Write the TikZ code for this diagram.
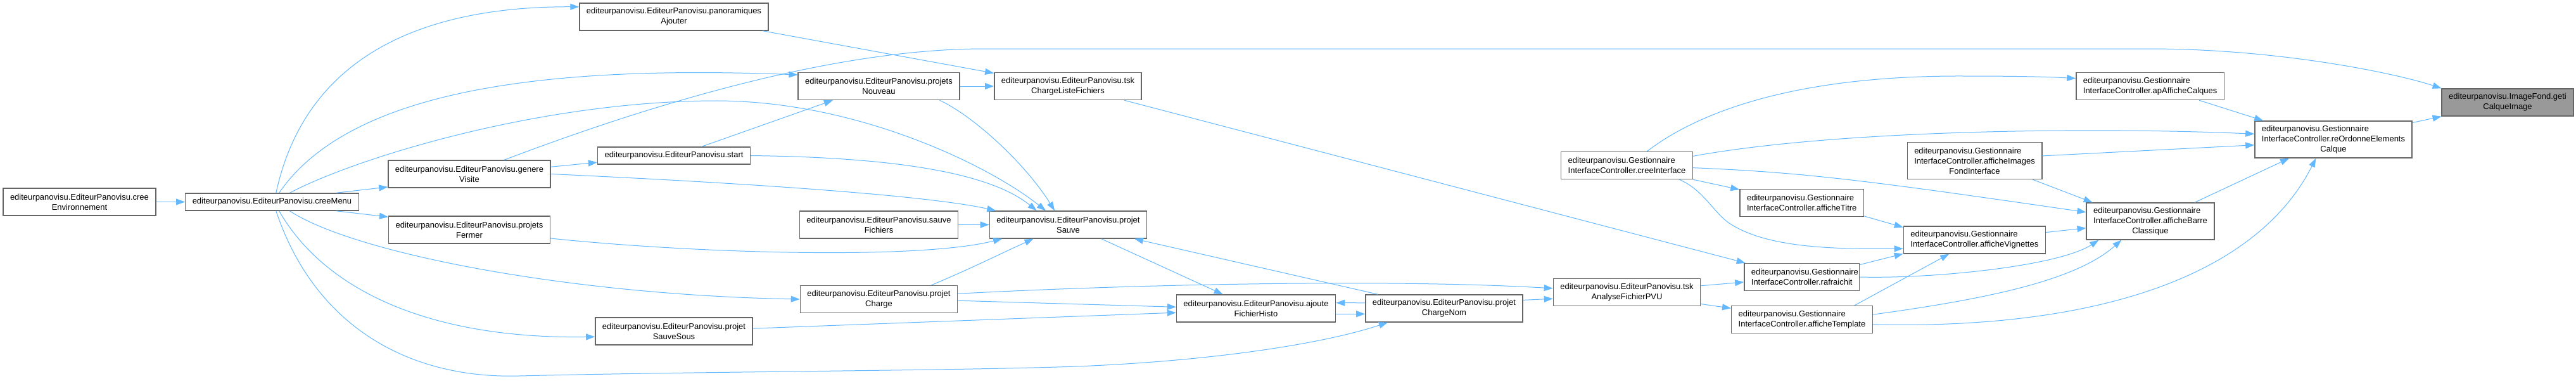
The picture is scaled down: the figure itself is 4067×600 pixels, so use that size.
\documentclass[tikz,border=0pt]{standalone}
\usepackage{fontspec}
\setmainfont{Liberation Sans}
\usepackage{xcolor}
\usepackage{tikz}
\usetikzlibrary{arrows.meta}
\definecolor{nodeline}{HTML}{666666}
\definecolor{edgeblue}{HTML}{63B8FF}
\definecolor{curfill}{HTML}{999999}
\newcommand{\ep}{editeurpanovisu.EditeurPanovisu.}
\newcommand{\gic}[1]{\rlap{editeurpanovisu.Gestionnaire}\phantom{InterfaceController.#1}\\InterfaceController.#1}

\begin{document}
\begin{tikzpicture}[x=1pt, y=-1pt,
    every node/.style={font=\fontsize{13}{16}\selectfont},
    fn/.style={draw=nodeline, fill=white, line width=1.4pt, align=center,
               inner xsep=11pt, inner ysep=0pt, minimum height=43pt},
    fn1/.style={fn, minimum height=27pt},
    fn3/.style={fn, minimum height=58pt},
    cur/.style={fn, fill=curfill},
    arr/.style={-{Triangle[length=14pt,width=10pt]}, draw=edgeblue, line width=1pt},
]
  \fill[white] (0,0) rectangle (4067,600);
  \useasboundingbox (0,0) rectangle (4067,600);
  % EditeurPanovisu
  \node[fn] (cEnv) at (125.5,318.5) {\ep cree\\Environnement};
  \node[fn1] (cMenu) at (429.5,318.5) {\ep creeMenu};
  \node[fn] (gVis) at (741,274.5) {\ep genere\\Visite};
  \node[fn] (pFer) at (741,362.5) {\ep projets\\Fermer};
  \node[fn] (pAj) at (1064,26.5) {\ep panoramiques\\Ajouter};
  \node[fn1] (start) at (1064,245.5) {\ep start};
  \node[fn] (pSS) at (1064,522.5) {\ep projet\\SauveSous};
  \node[fn] (pNouv) at (1387.5,136) {\ep projets\\Nouveau};
  \node[fn] (sFich) at (1387.5,354.5) {\ep sauve\\Fichiers};
  \node[fn] (pCh) at (1387.5,472) {\ep projet\\Charge};
  \node[fn] (tCLF) at (1686,136) {\ep tsk\\ChargeListeFichiers};
  \node[fn] (pSauve) at (1686.5,354.5) {\ep projet\\Sauve};
  \node[fn] (aFH) at (1983,486.5) {\ep ajoute\\FichierHisto};
  \node[fn] (pCN) at (2280,486.5) {\ep projet\\ChargeNom};
  \node[fn] (tAF) at (2568.5,461) {\ep tsk\\AnalyseFichierPVU};
  % GestionnaireInterfaceController
  \node[fn] (cInt) at (2568.5,261) {\gic{creeInterface}};
  \node[fn] (aTit) at (2844.7,320) {\gic{afficheTitre}};
  \node[fn] (raf) at (2844.7,437) {\gic{rafraichit}};
  \node[fn] (aTpl) at (2845,504) {\gic{afficheTemplate}};
  \node[fn3] (aIFI) at (3117.5,253.4) {\gic{afficheImages}\\FondInterface};
  \node[fn] (aVig) at (3117.3,378.4) {\gic{afficheVignettes}};
  \node[fn] (apAC) at (3394.6,136) {\gic{apAfficheCalques}};
  \node[fn3] (aBC) at (3395,349) {\gic{afficheBarre}\\Classique};
  \node[fn3] (rOEC) at (3684,220) {\gic{reOrdonneElements}\\Calque};
  \node[cur] (gCI) at (3959,161.5) {editeurpanovisu.ImageFond.geti\\CalqueImage};
  % creeMenu
  \draw[arr] (cEnv.east) -- (cMenu.west);
  \draw[arr] (cMenu.66) .. controls (480,100) and (650,10) .. (pAj.174);
  \draw[arr] (cMenu.52) .. controls (540,160) and (800,100) .. (pNouv.172);
  \draw[arr] (cMenu.27) .. controls (560,250) and (850,160) .. (1127,159)
                        .. controls (1350,158) and (1560,260) .. (pSauve.148);
  \draw[arr] (cMenu.8) -- (gVis.189);
  \draw[arr] (cMenu.-8) -- (pFer.171);
  \draw[arr] (cMenu.-27) .. controls (560,400) and (900,465) .. (pCh.west);
  \draw[arr] (cMenu.-52) .. controls (520,470) and (700,535) .. (pSS.184);
  \draw[arr] (cMenu.-66) .. controls (495,510) and (640,598) .. (820,593)
                         .. controls (1100,586) and (1500,585) .. (1700,578)
                         .. controls (1900,570) and (2080,545) .. (pCN.194);
  % genereVisite, projetsFermer, start
  \draw[arr] (gVis.5) -- (start.185);
  \draw[arr] (gVis.east) .. controls (1100,285) and (1450,305) .. (pSauve.169);
  \draw[arr] (gVis.22) .. controls (1000,175) and (1300,78) .. (1550,77) -- (3400,77)
                       .. controls (3600,78) and (3780,115) .. (gCI.168);
  \draw[arr] (pFer.-6) .. controls (1100,400) and (1450,410) .. (pSauve.192);
  \draw[arr] (pAj.-9) -- (tCLF.170);
  \draw[arr] (start.18) -- (pNouv.197);
  \draw[arr] (start.east) .. controls (1400,248) and (1560,270) .. (pSauve.156);
  % projets
  \draw[arr] (pNouv.east) -- (tCLF.west);
  \draw[arr] (pNouv.-13) .. controls (1540,185) and (1620,260) .. (pSauve.134);
  \draw[arr] (sFich.east) -- (pSauve.west);
  \draw[arr] (pCh.15) .. controls (1530,425) and (1580,400) .. (pSauve.202);
  \draw[arr] (pCh.-1) -- (aFH.179);
  \draw[arr] (pCh.4) .. controls (1800,448) and (2200,440) .. (tAF.177);
  \draw[arr] (pSS.2) -- (aFH.183);
  \draw[arr] (pSauve.-23) -- (aFH.157);
  \draw[arr] (pCN.168) -- (pSauve.-12);
  \draw[arr] (pCN.176) -- (aFH.4);
  \draw[arr] (aFH.-4) -- (pCN.184);
  \draw[arr] (pCN.6) -- (tAF.185);
  % tsk
  \draw[arr] (tCLF.-14) -- (raf.166);
  \draw[arr] (tAF.5) -- (raf.185);
  \draw[arr] (tAF.-9) -- (aTpl.171);
  % creeInterface
  \draw[arr] (cInt.-12) -- (aTit.168);
  \draw[arr] (cInt.-15) .. controls (2690,300) and (2705,335) .. (2730,352)
                        .. controls (2790,392) and (2900,393) .. (aVig.187);
  \draw[arr] (cInt.35) .. controls (2690,170) and (2850,119) .. (3100,120)
                       .. controls (3180,120) and (3230,121) .. (apAC.174);
  \draw[arr] (cInt.8) .. controls (2900,205) and (3300,200) .. (rOEC.176);
  \draw[arr] (cInt.-2) .. controls (2850,272) and (2950,285) .. (aBC.172);
  % affiche...
  \draw[arr] (aTit.-12) -- (aVig.170);
  \draw[arr] (raf.12) -- (aVig.191);
  \draw[arr] (raf.east) .. controls (3050,440) and (3250,420) .. (aBC.200);
  \draw[arr] (aTpl.15) -- (aVig.209);
  \draw[arr] (aTpl.4) .. controls (3150,470) and (3280,440) .. (aBC.213);
  \draw[arr] (aTpl.-4) .. controls (3300,520) and (3560,440) .. (rOEC.227);
  \draw[arr] (aVig.6) -- (aBC.186);
  \draw[arr] (aIFI.4) -- (rOEC.184);
  \draw[arr] (aIFI.-18) -- (aBC.162);
  \draw[arr] (aBC.23) -- (rOEC.203);
  \draw[arr] (apAC.-16) -- (rOEC.165);
  \draw[arr] (rOEC.12) -- (gCI.192);
\end{tikzpicture}
\end{document}
